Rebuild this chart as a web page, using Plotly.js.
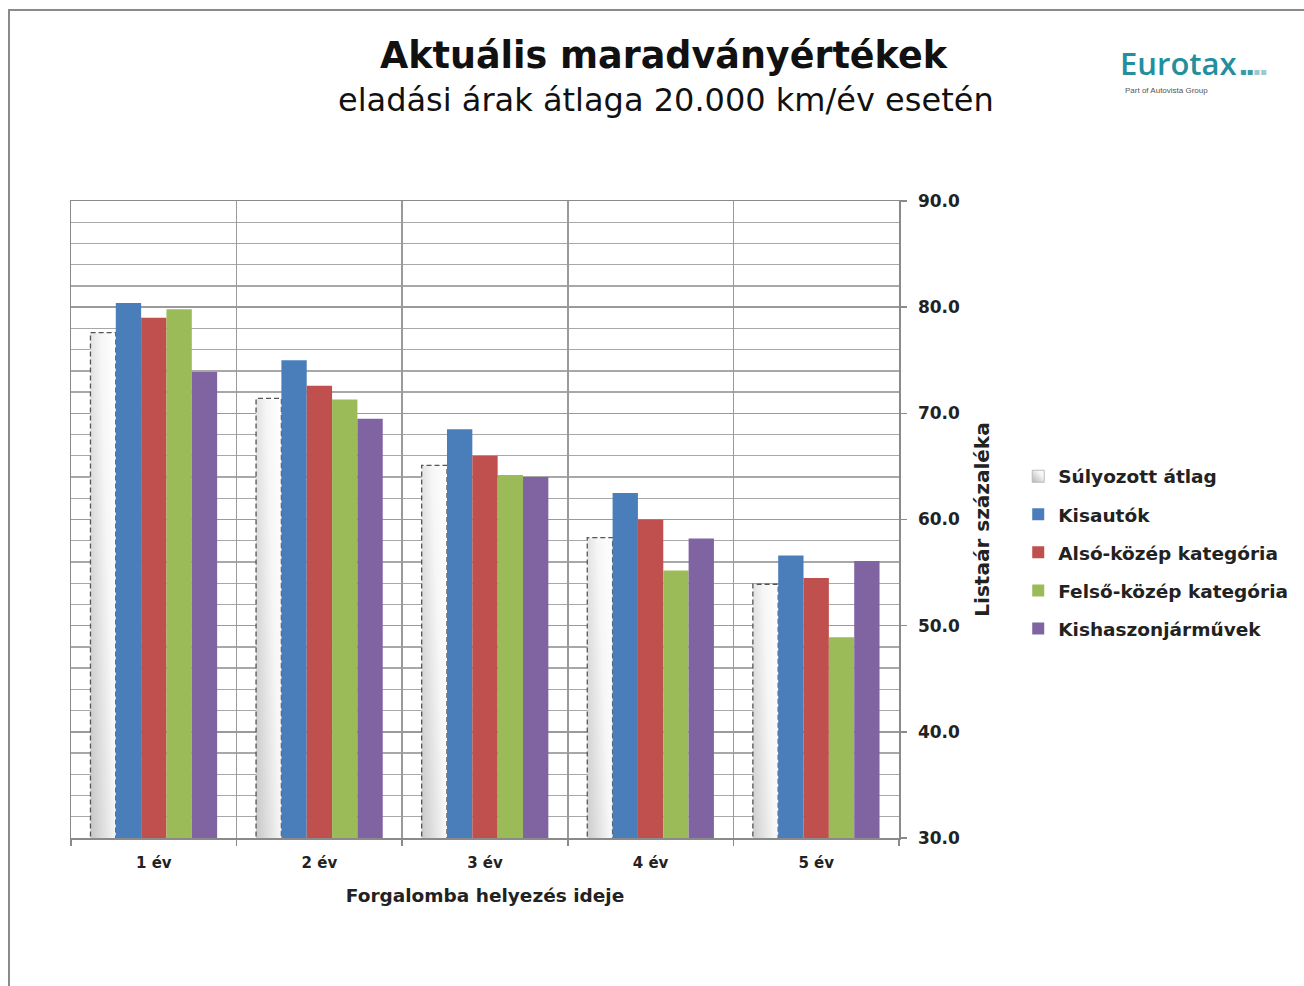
<!DOCTYPE html>
<html>
<head>
<meta charset="utf-8">
<script src="https://cdn.plot.ly/plotly-3.0.1.min.js"></script>
<style>
  html, body { margin: 0; padding: 0; background: #fff; }
  #frame { position: absolute; left: 8px; top: 9px; width: 1300px; height: 980px;
           border-top: 2px solid #8a8a8a; border-left: 2px solid #8a8a8a; pointer-events: none; z-index: 5; }
  #chart { width: 1304px; height: 986px; }
</style>
</head>
<body>
<div id="frame"></div>
<div id="chart"></div>
<script>
const categories = ['1 év', '2 év', '3 év', '4 év', '5 év'];
const seriesNames = ['Súlyozott átlag', 'Kisautók', 'Alsó-közép kategória', 'Felső-közép kategória', 'Kishaszonjárművek'];
const sulyozott = [77.6, 71.4, 65.1, 58.3, 53.9];
const kisautok = [80.4, 75.0, 68.5, 62.5, 56.6];
const alsoKozep = [79.0, 72.6, 66.0, 60.0, 54.5];
const felsoKozep = [79.8, 71.3, 64.2, 55.2, 48.9];
const kishaszon = [73.9, 69.5, 64.0, 58.2, 56.1];
const colors = ['#e4e4e4', '#4a7ebb', '#c0504d', '#9bbb59', '#8064a2'];

const FONT = 'DejaVu Sans, Verdana, sans-serif';
const values = [sulyozott, kisautok, alsoKozep, felsoKozep, kishaszon];

const traces = values.map((v, i) => ({
  type: 'bar',
  name: seriesNames[i],
  x: categories,
  y: v,
  legendgroup: 'g' + i,
  marker: {
    color: colors[i],
    line: i === 0 ? {color: '#555555', width: 1.3} : {width: 0}
  },
  hoverinfo: 'x+y+name'
}));

const layout = {
  width: 1304, height: 986,
  paper_bgcolor: '#ffffff', plot_bgcolor: '#ffffff',
  margin: {l: 71, r: 405, t: 201, b: 148, autoexpand: false},
  barmode: 'group',
  bargap: 0.235,
  bargroupgap: 0,
  showlegend: true,
  font: {family: FONT, color: '#222222'},
  legend: {
    x: 1.144, xanchor: 'left', y: 0.597, yanchor: 'top',
    font: {family: FONT, size: 18.5, color: '#222222', weight: 'bold'},
    tracegroupgap: 11, itemwidth: 30, bgcolor: 'rgba(0,0,0,0)'
  },
  xaxis: {
    type: 'category',
    tickson: 'boundaries',
    showgrid: true, gridcolor: '#9a9a9a', gridwidth: 1.5,
    showline: true, mirror: true, linecolor: '#8a8a8a', linewidth: 1.5,
    ticks: 'outside', ticklen: 6, tickcolor: '#8a8a8a', tickwidth: 1.5,
    ticklabelstandoff: 10,
    tickfont: {family: FONT, size: 15, color: '#222222', weight: 'bold'},
    title: {text: 'Forgalomba helyezés ideje', font: {family: FONT, size: 18.5, color: '#222222', weight: 'bold'}, standoff: 18},
    automargin: false
  },
  yaxis: {
    side: 'right',
    range: [30, 90],
    dtick: 10, tick0: 30,
    tickformat: '.1f',
    showgrid: true, gridcolor: '#9a9a9a', gridwidth: 1.5,
    minor: {dtick: 2, showgrid: true, gridcolor: '#a8a8a8', gridwidth: 1.3},
    showline: true, mirror: true, linecolor: '#8a8a8a', linewidth: 1.5,
    ticks: 'outside', ticklen: 6, tickcolor: '#8a8a8a', tickwidth: 1.5,
    ticklabelstandoff: 8,
    tickfont: {family: FONT, size: 17, color: '#222222', weight: 'bold'},
    title: {text: 'Listaár százaléka', font: {family: FONT, size: 20, color: '#222222', weight: 'bold'}, standoff: 16},
    zeroline: false,
    automargin: false
  },
  annotations: [
    {text: 'Aktuális maradványértékek', xref: 'paper', yref: 'paper', x: 0.716, y: 1.229,
     xanchor: 'center', yanchor: 'middle', showarrow: false,
     font: {family: FONT, size: 36.5, color: '#111111', weight: 'bold'}},
    {text: 'eladási árak átlaga 20.000 km/év esetén', xref: 'paper', yref: 'paper', x: 0.718, y: 1.1586,
     xanchor: 'center', yanchor: 'middle', showarrow: false,
     font: {family: FONT, size: 32, color: '#111111'}},
    {text: 'Eurotax', xref: 'paper', yref: 'paper', x: 1.264, y: 1.2165,
     xanchor: 'left', yanchor: 'middle', showarrow: false,
     font: {family: 'Open Sans, sans-serif', size: 31, color: '#238f9c', weight: 600}},
    {text: '<b>▪▪</b><span style="color:#9cc9cf">▪▪</span>', xref: 'paper', yref: 'paper', x: 1.409, y: 1.203,
     xanchor: 'left', yanchor: 'middle', showarrow: false,
     font: {family: FONT, size: 10, color: '#3a9aa6'}},
    {text: 'Part of Autovista Group', xref: 'paper', yref: 'paper', x: 1.271, y: 1.1727,
     xanchor: 'left', yanchor: 'middle', showarrow: false,
     font: {family: 'Liberation Sans, sans-serif', size: 8, color: '#555555'}}
  ]
};

Plotly.newPlot('chart', traces, layout, {displayModeBar: false, staticPlot: true}).then(gd => {
  const NS = 'http://www.w3.org/2000/svg';
  const svg = gd.querySelector('svg.main-svg');
  let defs = svg.querySelector('defs');
  if (!defs) { defs = document.createElementNS(NS, 'defs'); svg.insertBefore(defs, svg.firstChild); }
  const grad = document.createElementNS(NS, 'linearGradient');
  grad.setAttribute('id', 'sulyGrad');
  grad.setAttribute('x1', '1'); grad.setAttribute('y1', '0');
  grad.setAttribute('x2', '0'); grad.setAttribute('y2', '1');
  [['0', '#ffffff'], ['0.3', '#f6f6f6'], ['1', '#b4b4b4']].forEach(([o, c]) => {
    const s = document.createElementNS(NS, 'stop');
    s.setAttribute('offset', o); s.setAttribute('stop-color', c);
    grad.appendChild(s);
  });
  defs.appendChild(grad);
  const barTraces = gd.querySelectorAll('.barlayer .trace');
  if (barTraces.length) {
    barTraces[0].querySelectorAll('path').forEach(p => {
      p.style.fill = 'url(#sulyGrad)';
      p.style.strokeDasharray = '5,3';
    });
  }
  const legTraces = gd.querySelectorAll('.legend .traces');
  if (legTraces.length) {
    legTraces[0].querySelectorAll('.legendpoints path').forEach(p => {
      p.style.fill = 'url(#sulyGrad)';
      p.style.stroke = '#bbbbbb';
      p.style.strokeWidth = '1px';
    });
  }
});
</script>
</body>
</html>
